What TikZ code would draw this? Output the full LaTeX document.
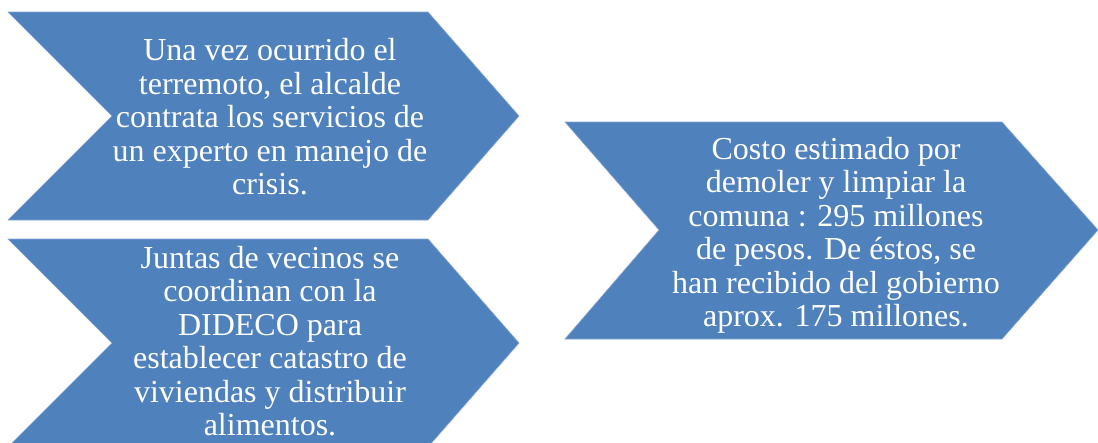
\documentclass[tikz,border=0pt]{standalone}
\usepackage{fontspec}
\setmainfont{Liberation Serif}
\definecolor{chev}{HTML}{4F81BD}
\tikzset{
  chevfill/.style={fill=chev, draw=chev!70!white, line width=0.6pt},
  txt/.style={text=white, align=center, inner sep=0pt,
    font=\fontsize{32}{33.5}\selectfont}
}
\begin{document}
\begin{tikzpicture}[x=1pt,y=-1pt]
\useasboundingbox (0,0) rectangle (1098,442);
\clip (0,0) rectangle (1098,442);
\fill[white] (0,0) rectangle (1098,442);
% chevron 1
\path[chevfill] (8,12) -- (428,12) -- (519,116) -- (428,220) -- (8,220) -- (112,116) -- cycle;
% chevron 2
\path[chevfill] (8,239) -- (428,239) -- (519,343) -- (428,447) -- (8,447) -- (112,343) -- cycle;
% chevron 3
\path[chevfill] (565,122) -- (1002,122) -- (1098,230) -- (1002,339) -- (565,339) -- (659,230) -- cycle;
\node[txt] (t1) at (270,117) {Una vez ocurrido el\\terremoto, el alcalde\\contrata los servicios de\\un experto en manejo de\\crisis.};
\node[txt] (t2) at (270,341) {Juntas de vecinos se\\coordinan con la\\DIDECO para\\establecer catastro de\\viviendas y distribuir\\alimentos.};
\node[txt] (t3) at (836,235.5) {Costo estimado por\\demoler y limpiar la\\comuna : 295 millones\\de pesos. De éstos, se\\han recibido del gobierno\\aprox. 175 millones.};
\end{tikzpicture}
\end{document}
